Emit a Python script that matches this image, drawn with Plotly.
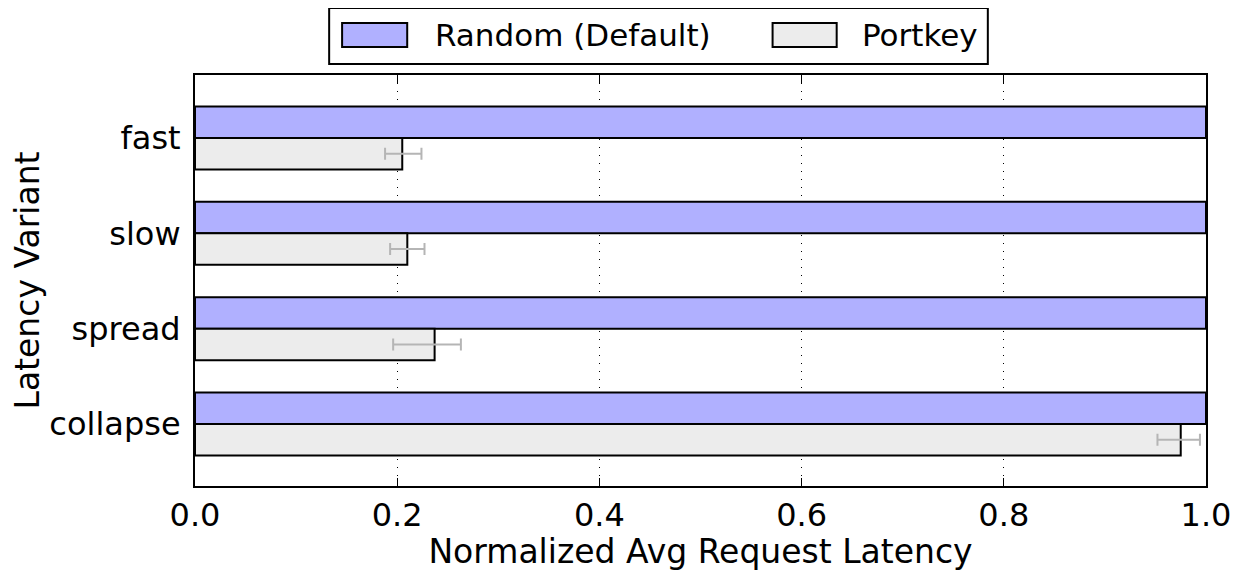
import plotly.graph_objects as go

categories = ["fast", "slow", "spread", "collapse"]
series_names = ["Random (Default)", "Portkey"]
random_vals = [1.0, 1.0, 1.0, 1.0]
portkey_vals = [0.205, 0.21, 0.237, 0.975]
portkey_err_plus = [0.019, 0.017, 0.026, 0.019]
portkey_err_minus = [0.017, 0.017, 0.041, 0.023]
x_ticks = [0.0, 0.2, 0.4, 0.6, 0.8, 1.0]

colors = ["#b0b0ff", "#ececec"]
pos = list(range(len(categories)))
bw = 0.33
FONT = "DejaVu Sans"

fig = go.Figure()
fig.add_trace(go.Bar(
    y=pos, x=random_vals, orientation="h", name=series_names[0],
    offset=-bw, width=bw,
    marker=dict(color=colors[0], line=dict(color="black", width=2)),
))
fig.add_trace(go.Bar(
    y=pos, x=portkey_vals, orientation="h", name=series_names[1],
    offset=0, width=bw,
    marker=dict(color=colors[1], line=dict(color="black", width=2)),
    error_x=dict(type="data", array=portkey_err_plus, arrayminus=portkey_err_minus,
                 symmetric=False, color="#b5b5b5", thickness=2, width=6),
))

# page has an 8px body margin; size figure so the plot area lands where the reference has it
fig.update_layout(
    width=1231, height=563,
    margin=dict(l=187, r=33, t=67, b=85),
    plot_bgcolor="white", paper_bgcolor="white",
    barmode="overlay",
    font=dict(family=FONT, size=32, color="black"),
    showlegend=False,
)

# custom legend (large swatches like the reference)
fig.add_shape(type="rect", xref="paper", yref="paper",
              x0=0.1327, x1=0.7842, y0=1.0268, y1=1.163,
              line=dict(color="black", width=2), fillcolor="white", layer="above")
leg_items = [(0.1455, 0.2099, 0.2356), (0.5713, 0.6347, 0.6574)]
for (sx0, sx1, tx), name, col in zip(leg_items, series_names, colors):
    fig.add_shape(type="rect", xref="paper", yref="paper",
                  x0=sx0, x1=sx1, y0=1.0681, y1=1.1265,
                  line=dict(color="black", width=2), fillcolor=col, layer="above")
    fig.add_annotation(xref="paper", yref="paper", x=tx, y=1.0973,
                       text=name, showarrow=False, xanchor="left", yanchor="middle",
                       font=dict(size=31, family=FONT, color="black"))

fig.update_xaxes(
    range=[0, 1], tickvals=x_ticks, ticktext=[f"{v:.1f}" for v in x_ticks],
    showgrid=True, gridcolor="black", gridwidth=1, griddash="1px,7px",
    showline=True, linecolor="black", linewidth=2, mirror="ticks",
    ticks="inside", ticklen=8, tickwidth=1, tickcolor="black",
    zeroline=False, automargin=False,
    title=dict(text="Normalized Avg Request Latency", standoff=14, font=dict(size=33)),
)
fig.update_yaxes(
    range=[3.65, -0.66], tickvals=pos, ticktext=categories,
    showgrid=False, zeroline=False, automargin=False,
    showline=True, linecolor="black", linewidth=2, mirror=True,
    ticks="", ticklabelstandoff=6,
    title=dict(text="Latency Variant", standoff=8, font=dict(size=33)),
)

fig.write_html("out.html")
